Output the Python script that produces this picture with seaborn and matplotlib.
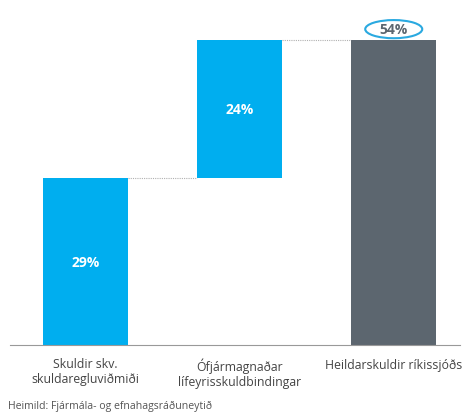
import matplotlib
matplotlib.use("Agg")
import matplotlib.pyplot as plt
from matplotlib.patches import Ellipse
import seaborn as sns
import pandas as pd

# Data
categories = ["Skuldir skv.\nskuldaregluviðmiði",
              "Ófjármagnaðar\nlífeyrisskuldbindingar",
              "Heildarskuldir ríkissjóðs"]
debt_rule = 29.4
pension = 24.3
total = debt_rule + pension
heights = [debt_rule, pension, total]
bottoms = [0, debt_rule, 0]
labels = ["29%", "24%", "54%"]
colors = ["#00aeef", "#00aeef", "#5c666f"]

df = pd.DataFrame({"cat": categories, "val": heights})

sns.set_style("white")
plt.rcParams["font.family"] = ["Open Sans", "DejaVu Sans"]

fig = plt.figure(figsize=(4.64, 4.14), dpi=100)
ax = fig.add_axes([10 / 464, 1 - 346 / 414, 450 / 464, 336 / 414])

sns.barplot(data=df, x="cat", y="val", bottom=bottoms, width=0.55,
            color=colors[0], ax=ax, linewidth=0)
for p, c in zip(ax.patches, colors):
    p.set_facecolor(c)

ax.set_ylim(0, 59.2)
ax.set_xlim(-0.49, 2.43)

# connectors
half = 0.55 / 2
ax.plot([0 + half, 1 - half], [debt_rule, debt_rule], ls=(0, (1, 1)), color="#b0b0b0", lw=0.8)
ax.plot([1 + half, 2 - half], [total, total], ls=(0, (1, 1)), color="#b0b0b0", lw=0.8)

# value labels
ax.text(0, debt_rule / 2, labels[0], ha="center", va="center", color="white",
        fontsize=10, fontweight="bold")
ax.text(1, debt_rule + pension / 2, labels[1], ha="center", va="center", color="white",
        fontsize=10, fontweight="bold")
ax.text(2, total + 1.9, labels[2], ha="center", va="center", color="#5c666f",
        fontsize=10, fontweight="bold")
ax.add_patch(Ellipse((2, total + 1.95), 0.37, 3.2, fill=False, edgecolor="#2aa9e0", lw=1.5,
                     clip_on=False))

for s in ["top", "right", "left"]:
    ax.spines[s].set_visible(False)
ax.spines["bottom"].set_color("#999999")
ax.spines["bottom"].set_linewidth(0.8)
ax.set_yticks([])
ax.set_xlabel("")
ax.set_ylabel("")
ax.tick_params(axis="x", length=0, pad=9, labelsize=8.8, labelcolor="#444444")

fig.text(8 / 464, 1 - 406 / 414, "Heimild: Fjármála- og efnahagsráðuneytið",
         fontsize=7.6, color="#555555", va="center")

fig.savefig("out.png", dpi=100)
